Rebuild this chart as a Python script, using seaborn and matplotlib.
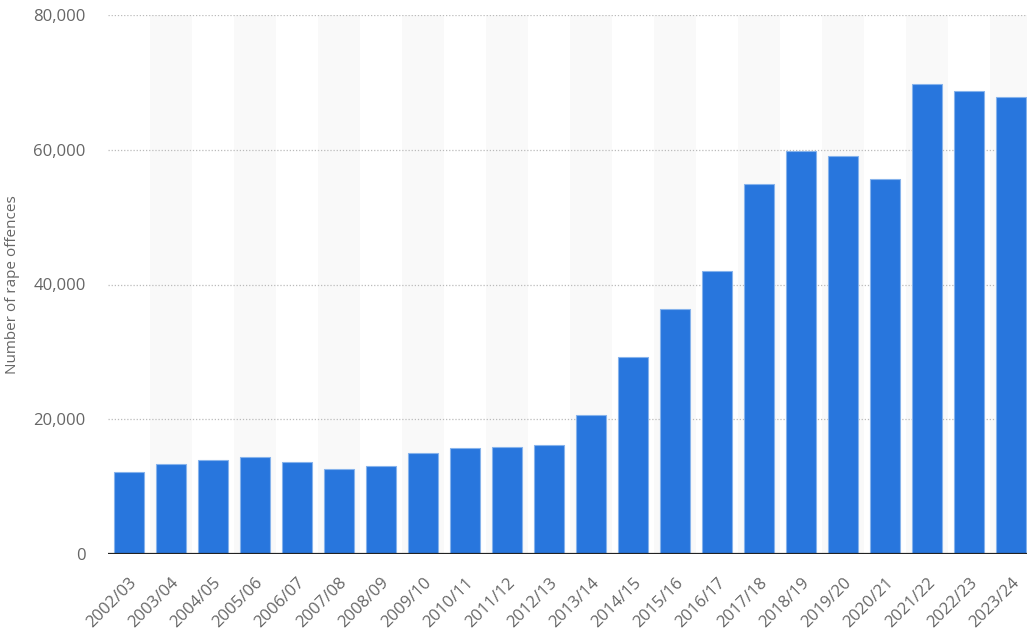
import matplotlib
matplotlib.use("Agg")
import matplotlib.pyplot as plt
import pandas as pd
import seaborn as sns
from matplotlib.ticker import FuncFormatter

years = [
    "2002/03", "2003/04", "2004/05", "2005/06", "2006/07", "2007/08",
    "2008/09", "2009/10", "2010/11", "2011/12", "2012/13", "2013/14",
    "2014/15", "2015/16", "2016/17", "2017/18", "2018/19", "2019/20",
    "2020/21", "2021/22", "2022/23", "2023/24",
]
offences = [
    12200, 13300, 14000, 14400, 13700, 12600,
    13100, 15000, 15700, 15900, 16200, 20600,
    29300, 36300, 42000, 54900, 59800, 59100,
    55600, 69800, 68700, 67800,
]
y_ticks = [0, 20000, 40000, 60000, 80000]

df = pd.DataFrame({"year": years, "offences": offences})

sns.set_style("white")
plt.rcParams["font.family"] = ["Open Sans", "DejaVu Sans"]

fig = plt.figure(figsize=(10.27, 6.41), dpi=100)
# slot width 42px, first slot starts at x=108; the last slot runs past the edge
ax = fig.add_axes([108 / 1027, 1 - 554 / 641, 924 / 1027, 539 / 641])

# alternating background bands
for i in range(1, len(years), 2):
    ax.axvspan(i - 0.5, i + 0.5, color="#f9f9f9", zorder=0, lw=0)

sns.barplot(
    data=df, x="year", y="offences", ax=ax,
    color="#2876dd", saturation=1, width=0.71,
    edgecolor="#86b3ec", linewidth=0.8, zorder=3,
)

ax.set_xlim(-0.5, len(years) - 0.5)
ax.set_ylim(0, 80000)
ax.set_yticks(y_ticks)
ax.yaxis.set_major_formatter(FuncFormatter(lambda v, _: f"{int(v):,}"))
for t in y_ticks[1:]:
    ax.axhline(t, color="#bbbbbb", lw=0.9, ls=(0, (1, 1.5)), zorder=1)
ax.axhline(0, color="#222222", lw=1.6, zorder=4)

for s in ax.spines.values():
    s.set_visible(False)

ax.tick_params(axis="both", length=0, colors="#666666", labelsize=12)
ax.tick_params(axis="y", pad=16)
ax.tick_params(axis="x", pad=15)
plt.setp(ax.get_xticklabels(), rotation=45, ha="right", rotation_mode="anchor")

ax.set_xlabel("")
ax.set_ylabel("Number of rape offences", color="#666666", fontsize=11)
ax.yaxis.set_label_coords(-88 / 924, 0.5)

fig.savefig("out.png", dpi=100)
